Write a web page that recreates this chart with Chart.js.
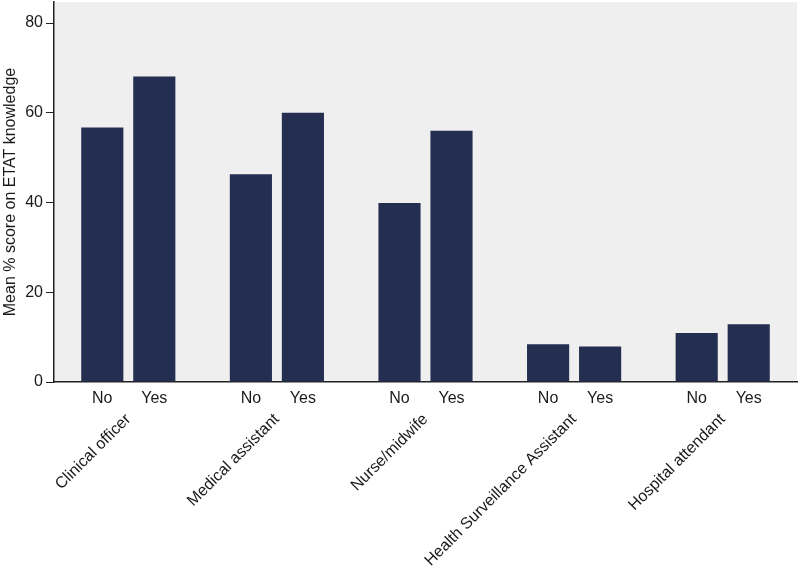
<!DOCTYPE html>
<html>
<head>
<meta charset="utf-8">
<script src="https://cdn.jsdelivr.net/npm/chart.js@4"></script>
<style>
  body { margin: 0; background: #fff; }
  #wrap { width: 800px; height: 571px; }
</style>
</head>
<body>
<div id="wrap"><canvas id="c"></canvas></div>
<script>
const groups = ['Clinical officer', 'Medical assistant', 'Nurse/midwife', 'Health Surveillance Assistant', 'Hospital attendant'];
const seriesNames = ['No', 'Yes'];
const noScores = [56.7, 46.3, 39.9, 8.4, 10.9];
const yesScores = [68.1, 60.0, 56.0, 7.9, 12.9];
const yTicks = [0, 20, 40, 60, 80];

const barColor = '#232e50';
const txt = '#1a1a1a';
const font = { family: '"Liberation Sans", Arial, sans-serif', size: 16 };

// light grey plot region + No/Yes labels under each bar
const plotBg = {
    id: 'plotBg',
    beforeDraw(chart) {
        const a = chart.chartArea;
        const ctx = chart.ctx;
        ctx.save();
        ctx.fillStyle = '#efefef';
        ctx.fillRect(a.left, a.top, a.right - a.left, a.bottom - a.top);
        ctx.restore();
    },
    afterDraw(chart) {
        const ctx = chart.ctx;
        ctx.save();
        ctx.font = font.size + 'px ' + font.family;
        ctx.fillStyle = txt;
        ctx.textAlign = 'center';
        ctx.textBaseline = 'middle';
        chart.data.datasets.forEach((ds, i) => {
            chart.getDatasetMeta(i).data.forEach((bar) => {
                ctx.fillText(ds.label, bar.x, chart.chartArea.bottom + 17);
            });
        });
        ctx.restore();
    }
};

const config = {
    type: 'bar',
    data: {
        labels: groups,
        datasets: [
            { label: seriesNames[0], data: noScores, backgroundColor: barColor },
            { label: seriesNames[1], data: yesScores, backgroundColor: barColor }
        ]
    },
    options: {
        responsive: true,
        maintainAspectRatio: false,
        animation: false,
        categoryPercentage: 0.70,
        barPercentage: 0.81,
        layout: { padding: { top: 2, right: 3, left: 0, bottom: 0 } },
        plugins: {
            legend: { display: false },
            tooltip: { enabled: false }
        },
        scales: {
            x: {
                grid: { display: false, drawTicks: false },
                border: { display: true, color: '#222', width: 1.5 },
                ticks: {
                    color: txt,
                    font: font,
                    autoSkip: false,
                    minRotation: 45,
                    maxRotation: 45,
                    padding: 28
                },
                afterFit(scale) {
                    scale.height = 189;
                    scale.paddingLeft = 0;
                    scale.paddingRight = 0;
                }
            },
            y: {
                min: 0,
                max: 84.7,
                grid: { display: true, drawOnChartArea: false, drawTicks: true, tickLength: 8, color: '#222' },
                border: { display: true, color: '#222', width: 1.5 },
                ticks: { color: txt, font: font, padding: 3 },
                afterBuildTicks(scale) { scale.ticks = yTicks.map(v => ({ value: v })); },
                title: {
                    display: true,
                    text: 'Mean % score on ETAT knowledge',
                    color: txt,
                    font: { family: font.family, size: 16 },
                    padding: { top: 1, bottom: 0 }
                },
                afterFit(scale) {
                    scale.width = 54;
                    scale.paddingTop = 0;
                    scale.paddingBottom = 0;
                }
            }
        }
    },
    plugins: [plotBg]
};

new Chart(document.getElementById('c'), config);
</script>
</body>
</html>
